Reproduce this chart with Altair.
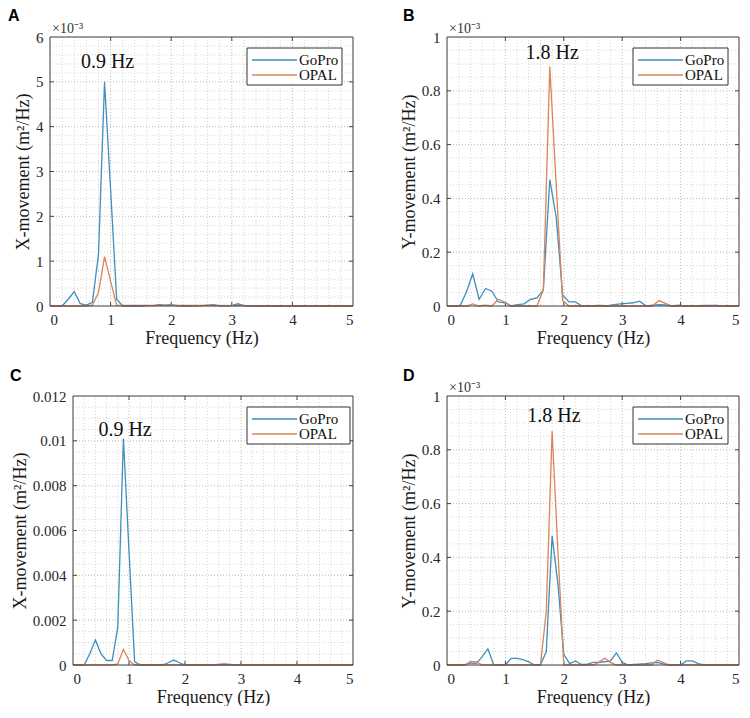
import altair as alt
import pandas as pd

SERIF = "Liberation Serif"
SANS = "Liberation Sans"
BLUE = "#3d8fbe"
ORANGE = "#d9845a"
SERIES = ["GoPro", "OPAL"]

# ---------------- Panel A (values x10^-3 m^2/Hz) ----------------
a_gopro_f = [0, 0.2, 0.3, 0.4, 0.5, 0.6, 0.7, 0.8, 0.9, 1.0, 1.1, 1.2, 1.5, 1.6, 1.7, 1.8, 1.9, 2.0,
             2.1, 2.2, 2.5, 2.6, 2.7, 2.8, 3.0, 3.1, 3.2, 3.3, 5.0]
a_gopro_v = [0, 0, 0.15, 0.32, 0.05, 0.02, 0.08, 1.15, 5.0, 2.6, 0.15, 0, 0, 0.01, 0.01, 0.03, 0.02, 0.03,
             0.01, 0, 0.01, 0.02, 0.03, 0.005, 0.01, 0.05, 0.01, 0, 0]
a_opal_f = [0, 0.6, 0.7, 0.8, 0.9, 1.0, 1.1, 5.0]
a_opal_v = [0, 0, 0.02, 0.3, 1.1, 0.55, 0.02, 0]

# ---------------- Panel B (values x10^-3 m^2/Hz) ----------------
b_gopro_f = [0, 0.22, 0.33, 0.44, 0.55, 0.66, 0.77, 0.88, 0.99, 1.10, 1.21, 1.32, 1.43, 1.54, 1.65, 1.76,
             1.87, 1.98, 2.09, 2.20, 2.31, 2.64, 2.75, 2.86, 2.97, 3.08, 3.19, 3.30, 3.41, 3.52, 3.63,
             3.74, 3.85, 3.96, 4.07, 4.5, 4.61, 4.72, 5.0]
b_gopro_v = [0, 0, 0.05, 0.12, 0.025, 0.065, 0.055, 0.015, 0.012, 0, 0.005, 0.008, 0.025, 0.03, 0.06, 0.47,
             0.33, 0.04, 0.015, 0.015, 0, 0.002, 0, 0.005, 0.008, 0.01, 0.012, 0.018, 0, 0.003, 0.005,
             0.004, 0, 0.003, 0, 0.002, 0.002, 0, 0]
b_opal_f = [0, 0.33, 0.44, 0.55, 0.66, 0.77, 0.88, 0.99, 1.10, 1.54, 1.65, 1.76, 1.87, 1.98, 2.09,
            3.52, 3.63, 3.74, 3.85, 5.0]
b_opal_v = [0, 0, 0.008, 0, 0.003, 0, 0.025, 0.015, 0, 0, 0.06, 0.89, 0.45, 0.02, 0,
            0, 0.02, 0.01, 0, 0]

# ---------------- Panel C (values m^2/Hz) ----------------
c_gopro_f = [0, 0.2, 0.3, 0.4, 0.5, 0.6, 0.7, 0.8, 0.9, 1.0, 1.1, 1.2, 1.6, 1.7, 1.8, 1.9, 2.0, 2.5, 2.7,
             2.9, 5.0]
c_gopro_v = [0, 0, 0.0005, 0.00112, 0.0005, 0.0002, 0.0002, 0.0017, 0.0101, 0.0051, 0.00015, 0, 0, 0.0001,
             0.00022, 0.0001, 0, 0, 0.00005, 0, 0]
c_opal_f = [0, 0.7, 0.8, 0.9, 1.0, 1.1, 5.0]
c_opal_v = [0, 0, 0.00005, 0.0007, 0.0002, 0, 0]

# ---------------- Panel D (values x10^-3 m^2/Hz) ----------------
d_gopro_f = [0, 0.3, 0.4, 0.5, 0.6, 0.7, 0.8, 1.0, 1.1, 1.2, 1.3, 1.4, 1.5, 1.6, 1.7, 1.8, 1.9, 2.0, 2.1,
             2.2, 2.3, 2.4, 2.5, 2.6, 2.7, 2.8, 2.9, 3.0, 3.1, 3.4, 3.5, 3.6, 3.7, 3.8, 4.0, 4.1, 4.2,
             4.3, 4.4, 5.0]
d_gopro_v = [0, 0, 0.008, 0.005, 0.03, 0.06, 0, 0, 0.025, 0.025, 0.02, 0.012, 0, 0, 0.05, 0.48, 0.3, 0.04,
             0.005, 0.015, 0.002, 0.002, 0.01, 0.01, 0.012, 0.015, 0.045, 0.01, 0, 0.005, 0.008, 0.01,
             0.004, 0, 0, 0.015, 0.015, 0.005, 0, 0]
d_opal_f = [0, 0.3, 0.4, 0.5, 0.6, 1.6, 1.7, 1.8, 1.9, 2.0, 2.1, 2.5, 2.6, 2.7, 2.8, 2.9, 3.5, 3.6, 3.7,
            3.8, 5.0]
d_opal_v = [0, 0, 0.012, 0.012, 0, 0, 0.2, 0.87, 0.42, 0.0, 0, 0, 0.01, 0.025, 0.01, 0, 0, 0.018, 0.01,
            0, 0]

# ---------------- axes ----------------
x_major = [0, 1, 2, 3, 4, 5]
yticks_a = [0, 1, 2, 3, 4, 5, 6]
yticks_b = [0, 0.2, 0.4, 0.6, 0.8, 1]
yticks_c = [0, 0.002, 0.004, 0.006, 0.008, 0.01, 0.012]


def minor(step, sub, n_major):
    return [round(i * step / sub, 6) for i in range(n_major * sub + 1) if i % sub]


def series_df(f1, v1, f2, v2):
    return pd.concat([
        pd.DataFrame({"f": f1, "v": v1, "s": "GoPro"}),
        pd.DataFrame({"f": f2, "v": v2, "s": "OPAL"}),
    ], ignore_index=True)


def panel(df, ymax, yticks, ysub, ytitle, letter, ann, W, H, exp_text,
          letter_dx, letter_dy, leg_right, leg_w, x0=0):
    # x0: left inset of the plot frame inside the panel group
    xs = alt.Scale(domain=[0, 5], nice=False, zero=False, range=[x0, W])
    ys = alt.Scale(domain=[0, ymax], nice=False, zero=False)
    xax = alt.Axis(values=x_major, title="Frequency (Hz)", format="~g", grid=False, ticks=False,
                   domain=False, labelPadding=6, titlePadding=2, titleX=x0 + (W - x0) / 2)
    yax = alt.Axis(values=yticks, title=ytitle, format="~g", grid=False, ticks=False,
                   domain=False, labelPadding=7, titlePadding=3, offset=-x0)

    def X(field):
        return alt.X(field, scale=xs, axis=xax, title="Frequency (Hz)")

    def Y(field):
        return alt.Y(field, scale=ys, axis=yax, title=ytitle)

    ystep = yticks[1] - yticks[0]
    color = alt.Color("s:N", scale=alt.Scale(domain=SERIES, range=[BLUE, ORANGE]), legend=None)
    layers = []

    # minor and major dotted grid
    layers.append(alt.Chart(pd.DataFrame({"f": minor(1, 5, 5)})).mark_rule(
        color="#d6d6d6", strokeDash=[1, 2], strokeWidth=1).encode(x=X("f:Q")))
    layers.append(alt.Chart(pd.DataFrame({"v": minor(ystep, ysub, len(yticks) - 1)})).mark_rule(
        color="#d6d6d6", strokeDash=[1, 2], strokeWidth=1).encode(
        y=Y("v:Q"), x=alt.value(x0), x2=alt.value(W)))
    layers.append(alt.Chart(pd.DataFrame({"f": x_major[1:-1]})).mark_rule(
        color="#bdbdbd", strokeDash=[1, 2], strokeWidth=1).encode(x=X("f:Q")))
    layers.append(alt.Chart(pd.DataFrame({"v": yticks[1:-1]})).mark_rule(
        color="#bdbdbd", strokeDash=[1, 2], strokeWidth=1).encode(
        y=Y("v:Q"), x=alt.value(x0), x2=alt.value(W)))

    # inward ticks
    tx = pd.DataFrame({"f": x_major[1:-1]})
    ty = pd.DataFrame({"v": yticks[1:-1]})
    layers.append(alt.Chart(tx).mark_rule(color="#444").encode(
        x=X("f:Q"), y=alt.value(H), y2=alt.value(H - 4)))
    layers.append(alt.Chart(tx).mark_rule(color="#444").encode(
        x=X("f:Q"), y=alt.value(0), y2=alt.value(4)))
    layers.append(alt.Chart(ty).mark_rule(color="#444").encode(
        y=Y("v:Q"), x=alt.value(x0), x2=alt.value(x0 + 4)))
    layers.append(alt.Chart(ty).mark_rule(color="#444").encode(
        y=Y("v:Q"), x=alt.value(W - 4), x2=alt.value(W)))

    # data lines
    layers.append(alt.Chart(df).mark_line(strokeWidth=1.3).encode(
        x=X("f:Q"), y=Y("v:Q"), color=color))

    # plot frame
    one = pd.DataFrame({"k": [0]})
    layers.append(alt.Chart(one).mark_rect(fillOpacity=0, stroke="#3a3a3a", strokeWidth=1).encode(
        x=alt.value(x0), x2=alt.value(W), y=alt.value(0), y2=alt.value(H)))

    # peak annotation
    layers.append(alt.Chart(pd.DataFrame({"f": [ann[0]], "v": [ann[1]], "t": [ann[2]]})).mark_text(
        font=SERIF, fontSize=20, color="#111").encode(x=X("f:Q"), y=Y("v:Q"), text="t:N"))

    # legend box
    x1 = W - leg_right - leg_w
    x2 = W - leg_right
    layers.append(alt.Chart(one).mark_rect(fill="white", stroke="#333", strokeWidth=1).encode(
        x=alt.value(x1), x2=alt.value(x2), y=alt.value(11), y2=alt.value(48)))
    for i, (name, col) in enumerate(zip(SERIES, [BLUE, ORANGE])):
        yy = 23 + 15 * i
        layers.append(alt.Chart(one).mark_rule(color=col, strokeWidth=1.3).encode(
            x=alt.value(x1 + 5), x2=alt.value(x1 + 50), y=alt.value(yy)))
        layers.append(alt.Chart(pd.DataFrame({"t": [name]})).mark_text(
            font=SERIF, fontSize=15, color="#111", align="left", baseline="middle").encode(
            x=alt.value(x1 + 52), y=alt.value(yy), text="t:N"))

    # exponent label
    if exp_text:
        layers.append(alt.Chart(pd.DataFrame({"t": [exp_text]})).mark_text(
            font=SERIF, fontSize=14, color="#333", align="left", baseline="alphabetic").encode(
            x=alt.value(x0 + 2), y=alt.value(-4), text="t:N"))

    # panel letter
    layers.append(alt.Chart(pd.DataFrame({"t": [letter]})).mark_text(
        font=SANS, fontSize=16, fontWeight="bold", color="#000", align="left",
        baseline="alphabetic").encode(x=alt.value(letter_dx), y=alt.value(letter_dy), text="t:N"))

    return alt.layer(*layers).properties(width=W, height=H)


EXP = "\u00d710\u207b\u00b3"
pa = panel(series_df(a_gopro_f, a_gopro_v, a_opal_f, a_opal_v), 6, yticks_a, 5,
           "X-movement (m\u00b2/Hz)", "A", (0.95, 5.45, "0.9 Hz"), 303, 269, EXP, -42, -16, 11, 95)
pb = panel(series_df(b_gopro_f, b_gopro_v, b_opal_f, b_opal_v), 1, yticks_b, 4,
           "Y-movement (m\u00b2/Hz)", "B", (1.8, 0.94, "1.8 Hz"), 292, 269, EXP, -44, -16, 11, 95)
pc = panel(series_df(c_gopro_f, c_gopro_v, c_opal_f, c_opal_v), 0.012, yticks_c, 4,
           "X-movement (m\u00b2/Hz)", "C", (0.93, 0.0105, "0.9 Hz"), 303, 269, "", -40, -15, 3, 103,
           x0=23)
pd_ = panel(series_df(d_gopro_f, d_gopro_v, d_opal_f, d_opal_v), 1, yticks_b, 4,
            "Y-movement (m\u00b2/Hz)", "D", (1.83, 0.926, "1.8 Hz"), 292, 269, EXP, -44, -15, 11, 95)

chart = alt.concat(pa, pb, pc, pd_, columns=2,
                   spacing={"row": 21, "column": 44}).resolve_scale(
    x="independent", y="independent", color="independent"
).properties(padding=0, background="white").configure_view(
    stroke=None
).configure_axis(
    labelFont=SERIF, labelFontSize=15, labelColor="#262626",
    titleFont=SERIF, titleFontSize=18, titleFontWeight="normal", titleColor="#1a1a1a"
)

chart.save("out.html", embed_options={"renderer": "svg", "actions": False})
